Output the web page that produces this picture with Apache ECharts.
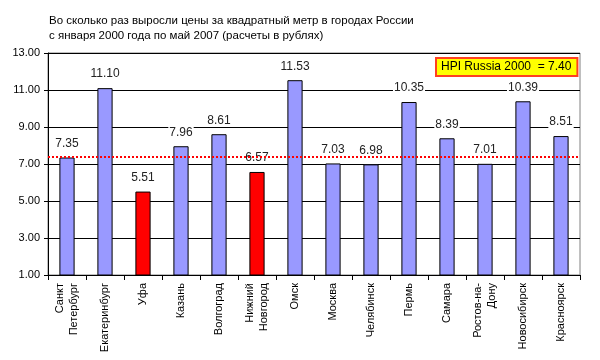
<!DOCTYPE html>
<html>
<head>
<meta charset="utf-8">
<script src="https://cdn.jsdelivr.net/npm/echarts@6/dist/echarts.min.js"></script>
<style>html,body{margin:0;padding:0;background:#fff}#c{width:600px;height:360px}</style>
</head>
<body>
<div id="c"></div>
<script>
var categories = ['Санкт\nПетербург','Екатеринбург','Уфа','Казань','Волгоград','Нижний\nНовгород','Омск','Москва','Челябинск','Пермь','Самара','Ростов-на-\nДону','Новосибирск','Красноярск'];
var values = [7.35, 11.10, 5.51, 7.96, 8.61, 6.57, 11.53, 7.03, 6.98, 10.35, 8.39, 7.01, 10.39, 8.51];
var highlighted = ['Уфа', 'Нижний\nНовгород'];
var hpiRussia = 7.40;
var yTicks = [1, 3, 5, 7, 9, 11, 13];

var chart = echarts.init(document.getElementById('c'));
var font = 'Liberation Sans, Arial, sans-serif';
chart.setOption({
  animation: false,
  textStyle: { fontFamily: font },
  title: {
    text: 'Во сколько раз выросли цены за квадратный метр в городах России\nс января 2000 года по май 2007 (расчеты в рублях)',
    left: 44, top: 8,
    textStyle: { fontSize: 11.5, fontWeight: 'normal', color: '#000', lineHeight: 15, fontFamily: font }
  },
  grid: { left: 48, right: 20, top: 53, bottom: 85, show: true, borderColor: '#808080', borderWidth: 1 },
  graphic: [{
    type: 'text', left: 435, top: 57,
    style: {
      text: 'HPI Russia 2000  = ' + hpiRussia.toFixed(2),
      fill: '#000', font: '12px ' + font,
      backgroundColor: '#ffff00', borderColor: '#ff4020', borderWidth: 2,
      padding: [2, 5, 2, 4]
    }
  }],
  xAxis: {
    type: 'category',
    data: categories,
    axisLine: { lineStyle: { color: '#000' } },
    axisTick: { show: true, length: 5, lineStyle: { color: '#000' } },
    axisLabel: { rotate: 90, fontSize: 11, color: '#000', lineHeight: 14, interval: 0, margin: 8 }
  },
  yAxis: {
    type: 'value', min: yTicks[0], max: yTicks[yTicks.length - 1], interval: 2,
    axisLine: { show: true, lineStyle: { color: '#000' } },
    axisTick: { show: true, length: 4, lineStyle: { color: '#000' } },
    splitLine: { lineStyle: { color: '#000', width: 1 } },
    axisLabel: { fontSize: 11, color: '#000', margin: 8, formatter: function (v) { return v.toFixed(2); } }
  },
  series: [{
    type: 'bar',
    barWidth: '40%',
    data: values.map(function (v, i) {
      var red = highlighted.indexOf(categories[i]) >= 0;
      return { value: v, itemStyle: { color: red ? '#ff0000' : '#9999ff' } };
    }),
    itemStyle: { borderColor: '#000', borderWidth: 1 },
    label: {
      show: true, position: 'top', distance: 8, fontSize: 12, color: '#222',
      backgroundColor: '#fff', padding: [0, 1],
      formatter: function (p) { return p.value.toFixed(2); }
    },
    markLine: {
      silent: true, symbol: 'none',
      label: { show: false },
      lineStyle: { color: '#ff0000', type: 'dotted', width: 2 },
      data: [{ yAxis: hpiRussia }]
    }
  }]
});
</script>
</body>
</html>
